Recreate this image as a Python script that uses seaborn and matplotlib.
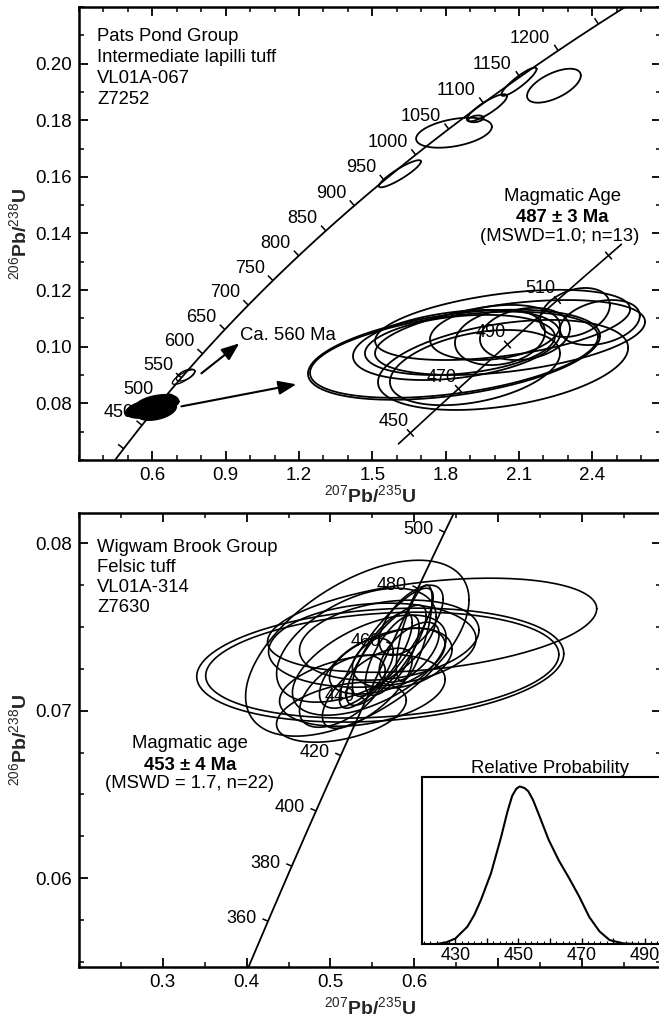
import numpy as np
import pandas as pd
import matplotlib
matplotlib.use("Agg")
import matplotlib.pyplot as plt
import seaborn as sns
from matplotlib.ticker import FixedLocator, MultipleLocator

# ---------------- data ----------------
L238 = 1.55125e-10
L235 = 9.8485e-10

# top panel: concordia ticks / labels (Ma)
top_tick_ages = list(range(400, 1251, 50))
top_label_ages = list(range(450, 1201, 50))
# inherited grains
inh_x = [1.613, 1.834, 1.924, 1.969, 2.100, 2.243]
inh_sx = [0.086, 0.155, 0.031, 0.082, 0.072, 0.110]
inh_y = [0.1611, 0.1756, 0.1805, 0.1844, 0.1936, 0.1922]
inh_sy = [0.0048, 0.0053, 0.0012, 0.0048, 0.0050, 0.0060]
inh_rho = [0.9, 0.4, 0.3, 0.85, 0.9, 0.6]
# ca. 560 Ma grains
old_x = [0.728, 0.736]
old_sx = [0.046, 0.038]
old_y = [0.0893, 0.0900]
old_sy = [0.0026, 0.0021]
old_rho = [0.8, 0.6]
# magmatic grains (13)
mag_x = [0.5858, 0.5858, 0.5874, 0.5896, 0.6171, 0.6219, 0.6174, 0.6122, 0.6154, 0.6315, 0.6637, 0.6798, 0.5993]
mag_sx = [0.0941, 0.0928, 0.0667, 0.0612, 0.0822, 0.0870, 0.0806, 0.0419, 0.0290, 0.0290, 0.0225, 0.0257, 0.0548]
mag_y = [0.0782, 0.0782, 0.07894, 0.07894, 0.08045, 0.0795, 0.07743, 0.07988, 0.0795, 0.07977, 0.08139, 0.08063, 0.07723]
mag_sy = [0.0034, 0.00325, 0.00265, 0.00227, 0.00265, 0.00283, 0.0034, 0.00208, 0.00208, 0.00197, 0.00185, 0.0017, 0.00284]
mag_rho = [0.42, 0.42, 0.32, 0.28, 0.45, 0.42, 0.38, 0.25, 0.2, 0.2, 0.3, 0.3, 0.38]
mag_tick_ages = [450, 470, 490, 510, 530]
mag_label_ages = [450, 470, 490, 510]
# arrows (tail x, tail y, head x, head y)
arrow_tail_x = [0.7186, 0.8006]
arrow_tail_y = [0.07894, 0.0906]
arrow_head_x = [1.189, 0.9559]
arrow_head_y = [0.08673, 0.1012]

# bottom panel grains (22)
b_x = [0.5595, 0.5619, 0.6214, 0.5321, 0.5500, 0.5310, 0.5131, 0.5381, 0.5464, 0.5667, 0.5667,
       0.5619, 0.5738, 0.5940, 0.5679, 0.6000, 0.5964, 0.5310, 0.5143, 0.5857, 0.5702, 0.5440]
b_sx = [0.2190, 0.2107, 0.1964, 0.1333, 0.1238, 0.0952, 0.0774, 0.0988, 0.0917, 0.0560, 0.0476,
        0.0357, 0.0321, 0.0357, 0.0690, 0.0214, 0.0381, 0.0440, 0.0512, 0.0595, 0.1071, 0.0536]
b_y = [0.07272, 0.07272, 0.07510, 0.07373, 0.07391, 0.07391, 0.06991, 0.07122, 0.07272, 0.07373, 0.07331,
       0.07337, 0.07331, 0.07349, 0.07296, 0.07463, 0.07540, 0.07224, 0.07116, 0.07313, 0.07421, 0.07134]
b_sy = [0.00340, 0.00316, 0.00281, 0.00525, 0.00251, 0.00340, 0.00179, 0.00215, 0.00299, 0.00358, 0.00299,
        0.00251, 0.00239, 0.00179, 0.00197, 0.00287, 0.00209, 0.00209, 0.00215, 0.00179, 0.00239, 0.00239]
b_rho = [0.2, 0.2, 0.35, 0.55, 0.15, 0.5, 0.4, 0.3, 0.55, 0.85, 0.8,
         0.75, 0.7, 0.6, 0.5, 0.7, 0.6, 0.6, 0.55, 0.3, 0.25, 0.7]
bot_tick_ages = list(range(360, 501, 20))
bot_label_ages = list(range(360, 501, 20))

# relative probability curve
prob_age = [424.0, 427.0, 430.0, 433.8, 436.0, 438.1, 441.3, 444.5, 446.5, 448.0, 449.3, 450.4, 451.9,
            453.1, 454.6, 456.3, 459.6, 462.8, 466.0, 469.3, 472.5, 475.7, 478.9, 483.2, 487.4, 496.0]
prob_rel = [0.0, 0.01, 0.035, 0.11, 0.185, 0.28, 0.45, 0.68, 0.84, 0.94, 0.985, 1.0, 0.99,
            0.97, 0.915, 0.83, 0.66, 0.53, 0.42, 0.30, 0.17, 0.08, 0.025, 0.004, 0.0, 0.0]
prob_ticks = [430, 440, 450, 460, 470, 480, 490]
prob_ticklabels = ["430", "", "450", "", "470", "", "490"]

# ---------------- style ----------------
sns.set_theme(style="ticks")
plt.rcParams["font.family"] = ["Liberation Sans", "DejaVu Sans"]
plt.rcParams["mathtext.fontset"] = "custom"
plt.rcParams["mathtext.rm"] = "Liberation Sans"
plt.rcParams["mathtext.bf"] = "Liberation Sans:bold"
plt.rcParams["mathtext.it"] = "Liberation Sans:italic"
plt.rcParams["mathtext.sf"] = "Liberation Sans"

W, H = 659, 1016
fig = plt.figure(figsize=(W / 100, H / 100), dpi=100)
fig.patch.set_facecolor("white")


def px_axes(left, top, right, bottom):
    return fig.add_axes([left / W, 1 - bottom / H, (right - left) / W, (bottom - top) / H])


def conc(t):
    t = np.asarray(t, dtype=float) * 1e6
    return np.exp(L235 * t) - 1, np.exp(L238 * t) - 1


def ellipse_df(xs, sxs, ys, sys_, rhos, n=240):
    th = np.linspace(0, 2 * np.pi, n)
    frames = []
    for i, (x, sx, y, sy, r) in enumerate(zip(xs, sxs, ys, sys_, rhos)):
        ex = x + sx * np.cos(th)
        ey = y + sy * (r * np.cos(th) + np.sqrt(1 - r * r) * np.sin(th))
        frames.append(pd.DataFrame({"x": ex, "y": ey, "grain": i}))
    return pd.concat(frames, ignore_index=True)


def draw_ellipses(ax, xs, sxs, ys, sys_, rhos, lw=1.1, fill=False):
    df = ellipse_df(xs, sxs, ys, sys_, rhos)
    sns.lineplot(data=df, x="x", y="y", units="grain", estimator=None, sort=False,
                 color="black", lw=lw, ax=ax, legend=False)
    if fill:
        for g, d in df.groupby("grain"):
            ax.fill(d["x"], d["y"], color="black", lw=0)


def draw_concordia(ax, t0, t1, lw=1.3):
    t = np.linspace(t0, t1, 600)
    cx, cy = conc(t)
    sns.lineplot(x=cx, y=cy, sort=False, estimator=None, color="black", lw=lw, ax=ax)


def conc_ticks(ax, ages, length, cross=False, lw=1.1):
    for t in ages:
        p = np.array(conc(t))
        a = ax.transData.transform(np.array(conc(t - 0.5)))
        b = ax.transData.transform(np.array(conc(t + 0.5)))
        tan = (b - a) / np.hypot(*(b - a))
        nrm = np.array([-tan[1], tan[0]])
        P = ax.transData.transform(p)
        end = P + nrm * length
        start = P - nrm * length if cross else P
        seg = ax.transData.inverted().transform(np.vstack([start, end]))
        ax.plot(seg[:, 0], seg[:, 1], color="black", lw=lw, solid_capstyle="butt")


def conc_labels(ax, ages, dx, dy, va="bottom", fs=13):
    for t in ages:
        x, y = conc(t)
        ax.annotate(str(t), xy=(float(x), float(y)), xytext=(dx, dy), textcoords="offset pixels",
                    ha="right", va=va, fontsize=fs, color="black")


def style_main(ax):
    for s in ax.spines.values():
        s.set_linewidth(1.8)
        s.set_color("black")
    ax.tick_params(which="both", direction="in", top=True, right=True, colors="black",
                   labelsize=13.5, pad=5)
    ax.tick_params(which="major", length=6.5, width=1.3)
    ax.tick_params(which="minor", length=3.5, width=1.1)
    ax.set_facecolor("white")


def put_text(ax, s, dx, dy, ha="left", **kw):
    ax.annotate(s, xy=(0, 1), xycoords="axes fraction", xytext=(dx, -dy),
                textcoords="offset pixels", ha=ha, va="baseline", fontsize=13.3, color="black", **kw)


xlabel = r"$^{207}$Pb/$^{235}$U"
ylabel = r"$^{206}$Pb/$^{238}$U"

# ---------------- top panel ----------------
ax1 = px_axes(79, 7, 661, 460)
ax1.set_xlim(0.3, 2.681)
ax1.set_ylim(0.06, 0.22)
style_main(ax1)
ax1.xaxis.set_major_locator(FixedLocator([0.6, 0.9, 1.2, 1.5, 1.8, 2.1, 2.4]))
ax1.xaxis.set_minor_locator(MultipleLocator(0.1))
ax1.yaxis.set_major_locator(FixedLocator([0.08, 0.10, 0.12, 0.14, 0.16, 0.18, 0.20]))
ax1.yaxis.set_minor_locator(MultipleLocator(0.01))
ax1.set_xticklabels(["0.6", "0.9", "1.2", "1.5", "1.8", "2.1", "2.4"])
ax1.set_yticklabels(["0.08", "0.10", "0.12", "0.14", "0.16", "0.18", "0.20"])

draw_concordia(ax1, 350, 1350)
conc_ticks(ax1, top_tick_ages, 7)
conc_labels(ax1, top_label_ages, -8, 4)
draw_ellipses(ax1, inh_x, inh_sx, inh_y, inh_sy, inh_rho, lw=1.3)
draw_ellipses(ax1, old_x, old_sx, old_y, old_sy, old_rho, lw=1.0)
draw_ellipses(ax1, mag_x, mag_sx, mag_y, mag_sy, mag_rho, lw=1.0, fill=True)
for tx, ty, hx, hy in zip(arrow_tail_x, arrow_tail_y, arrow_head_x, arrow_head_y):
    ax1.annotate("", xy=(hx, hy), xytext=(tx, ty),
                 arrowprops=dict(arrowstyle="-|>,head_length=0.9,head_width=0.35",
                                 color="black", lw=1.5, shrinkA=0, shrinkB=0))

put_text(ax1, "Pats Pond Group", 18, 34)
put_text(ax1, "Intermediate lapilli tuff", 18, 55)
put_text(ax1, "VL01A-067", 18, 76)
put_text(ax1, "Z7252", 18, 97)
put_text(ax1, "Magmatic Age", 483, 194, ha="center")
put_text(ax1, "487 \u00b1 3 Ma", 483, 215, ha="center", fontweight="bold")
put_text(ax1, "(MSWD=1.0; n=13)", 481, 234, ha="center")
put_text(ax1, "Ca. 560 Ma", 161, 333)

ax1.set_xlabel(xlabel, fontsize=14, fontweight="bold")
ax1.set_ylabel(ylabel, fontsize=14, fontweight="bold")
ax1.xaxis.set_label_coords(0.5, -0.053)
ax1.yaxis.set_label_coords(-0.084, 0.5)

# magnified view of magmatic grains
axm = px_axes(240, 240, 655, 450)
axm.set_xlim(0.4479, 0.7153)
axm.set_ylim(0.07101, 0.08686)
axm.set_facecolor("none")
axm.axis("off")
draw_concordia(axm, 445, 535, lw=1.2)
conc_ticks(axm, mag_tick_ages, 5, cross=True)
conc_labels(axm, mag_label_ages, -2, 3)
draw_ellipses(axm, mag_x, mag_sx, mag_y, mag_sy, mag_rho, lw=1.3)

# ---------------- bottom panel ----------------
ax2 = px_axes(79, 513, 661, 967)
ax2.set_xlim(0.2, 0.8945)
ax2.set_ylim(0.0547, 0.0818)
style_main(ax2)
ax2.xaxis.set_major_locator(FixedLocator([0.3, 0.4, 0.5, 0.6, 0.7, 0.8]))
ax2.set_xticklabels(["0.3", "0.4", "0.5", "0.6", "", ""])
ax2.xaxis.set_minor_locator(MultipleLocator(0.05))
ax2.yaxis.set_major_locator(FixedLocator([0.06, 0.07, 0.08]))
ax2.set_yticklabels(["0.06", "0.07", "0.08"])
ax2.yaxis.set_minor_locator(MultipleLocator(0.0025))

draw_concordia(ax2, 330, 520)
conc_ticks(ax2, bot_tick_ages, 6)
conc_labels(ax2, bot_label_ages, -11, 3, va="center")
draw_ellipses(ax2, b_x, b_sx, b_y, b_sy, b_rho, lw=1.2)

put_text(ax2, "Wigwam Brook Group", 18, 39)
put_text(ax2, "Felsic tuff", 18, 59)
put_text(ax2, "VL01A-314", 18, 79)
put_text(ax2, "Z7630", 18, 99)
put_text(ax2, "Magmatic age", 111, 235, ha="center")
put_text(ax2, "453 \u00b1 4 Ma", 111, 257, ha="center", fontweight="bold")
put_text(ax2, "(MSWD = 1.7, n=22)", 111, 275, ha="center")

ax2.set_xlabel(xlabel, fontsize=14, fontweight="bold")
ax2.set_ylabel(ylabel, fontsize=14, fontweight="bold")
ax2.xaxis.set_label_coords(0.5, -0.064)
ax2.yaxis.set_label_coords(-0.084, 0.5)

# relative probability inset
axp = px_axes(422, 777, 678, 944)
axp.set_facecolor("white")
sns.lineplot(x=prob_age, y=prob_rel, color="black", lw=1.5, ax=axp, sort=False, estimator=None)
axp.set_xlim(419.4, 500.6)
axp.set_ylim(0, 1.06)
for s in axp.spines.values():
    s.set_linewidth(1.5)
    s.set_color("black")
axp.set_yticks([])
axp.xaxis.set_major_locator(FixedLocator(prob_ticks))
axp.set_xticklabels(prob_ticklabels)
axp.xaxis.set_minor_locator(MultipleLocator(2))
axp.tick_params(axis="x", which="both", direction="in", bottom=True, top=False,
                colors="black", labelsize=13, pad=2)
axp.tick_params(axis="x", which="major", length=4, width=1.0)
axp.tick_params(axis="x", which="minor", length=2, width=0.8)
axp.set_xlabel("")
axp.set_ylabel("")
axp.set_title("Relative Probability", fontsize=13.3, pad=3, color="black")

fig.savefig("out.png", dpi=100, facecolor="white")
